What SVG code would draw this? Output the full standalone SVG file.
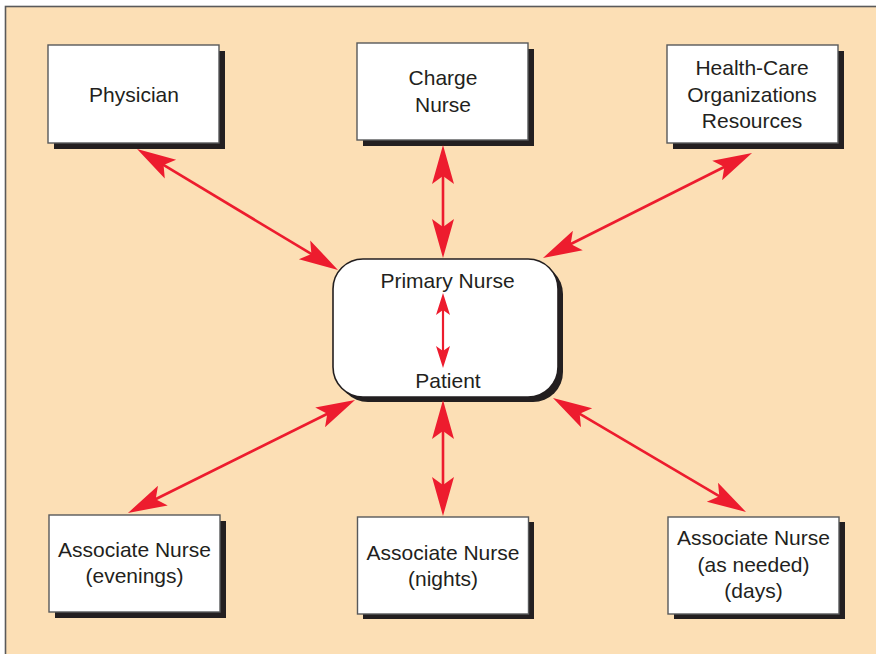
<svg xmlns="http://www.w3.org/2000/svg" width="876" height="654" viewBox="0 0 876 654">
<style>
.bg{fill:#fcdfb5;stroke:#5a5a5a;stroke-width:1.6}
.box{fill:#ffffff;stroke:#58595b;stroke-width:1.4}
.shadow{fill:#231f20}
.ctr{fill:#ffffff;stroke:#231f20;stroke-width:1.6}
text{font-family:"Liberation Sans",Arial,sans-serif;font-size:21px;fill:#231f20;text-anchor:middle}
.conn{stroke:#ed1c2e;stroke-width:2.6;fill:none;marker-start:url(#ah);marker-end:url(#ah)}
.conn2{stroke:#ed1c2e;stroke-width:2.2;fill:none;marker-start:url(#ahs);marker-end:url(#ahs)}
</style>
<defs>
<marker id="ah" markerUnits="userSpaceOnUse" markerWidth="60" markerHeight="60" viewBox="-40 -30 60 60" refX="0" refY="0" orient="auto-start-reverse" overflow="visible">
<path d="M10,0 L-29,-11 L-21,0 L-29,11 Z" fill="#ed1c2e"/>
</marker>
<marker id="ahs" markerUnits="userSpaceOnUse" markerWidth="40" markerHeight="40" viewBox="-20 -20 40 40" refX="0" refY="0" orient="auto-start-reverse" overflow="visible">
<path d="M6,0 L-16,-7 L-11,0 L-16,7 Z" fill="#ed1c2e"/>
</marker>
</defs>
<rect class="bg" x="5.5" y="6.5" width="880" height="660"/>
<g id="physician">
<rect class="shadow" x="54" y="51" width="171" height="98"/>
<rect class="box" x="48" y="45" width="171" height="98"/>
<text x="134" y="102">Physician</text>
</g>
<g id="charge-nurse">
<rect class="shadow" x="363" y="49" width="171" height="97"/>
<rect class="box" x="357" y="43" width="171" height="97"/>
<text x="443" y="85">Charge</text>
<text x="443" y="111.5">Nurse</text>
</g>
<g id="health-care">
<rect class="shadow" x="673" y="51" width="171" height="98"/>
<rect class="box" x="667" y="45" width="171" height="98"/>
<text x="752" y="75">Health-Care</text>
<text x="752" y="101.5">Organizations</text>
<text x="752" y="128">Resources</text>
</g>
<g id="primary">
<rect class="shadow" x="338" y="264" width="225" height="138" rx="30" ry="30"/>
<rect class="ctr" x="333" y="259" width="225" height="138" rx="30" ry="30"/>
<text x="447.5" y="288">Primary Nurse</text>
<text x="448" y="388">Patient</text>
</g>
<g id="assoc-evenings">
<rect class="shadow" x="55" y="521" width="171" height="97"/>
<rect class="box" x="49" y="515" width="171" height="97"/>
<text x="134.5" y="557">Associate Nurse</text>
<text x="134.5" y="583">(evenings)</text>
</g>
<g id="assoc-nights">
<rect class="shadow" x="363" y="522" width="171" height="97"/>
<rect class="box" x="357.5" y="517" width="171" height="97"/>
<text x="443" y="560">Associate Nurse</text>
<text x="443" y="586">(nights)</text>
</g>
<g id="assoc-days">
<rect class="shadow" x="674" y="522" width="171" height="97"/>
<rect class="box" x="668" y="517" width="171" height="97"/>
<text x="753.5" y="545">Associate Nurse</text>
<text x="753.5" y="571.5">(as needed)</text>
<text x="753.5" y="598">(days)</text>
</g>
<g id="connectors">
<path class="conn" d="M145.6,154.2 L329.4,264.8"/>
<path class="conn" d="M443,155 L443,248"/>
<path class="conn" d="M743.1,157.5 L551.9,253.5"/>
<path class="conn" d="M346.1,404.5 L136.9,508.5"/>
<path class="conn" d="M443,410 L443,506"/>
<path class="conn" d="M561.6,403.1 L737.4,506.9"/>
<path class="conn2" d="M443,299 L443,362"/>
</g>
</svg>
